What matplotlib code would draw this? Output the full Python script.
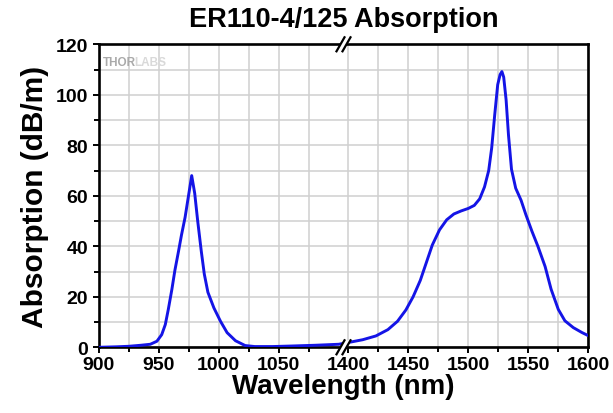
""" Courbe d'absorption ER110-4/125 avec axe des abscisses coupé (1100 -> 1400 nm) """
import numpy as np
import matplotlib.pyplot as plt
from matplotlib.patches import Polygon

# données
longueur_onde = [900, 915, 925, 935, 943, 948.5, 952.5, 955.5, 958, 961, 963.5, 966.5, 969, 972,
                 974.5, 977.5, 980, 982.5, 985.5, 988, 991, 996, 1001.5, 1007, 1014, 1022, 1030,
                 1045, 1060, 1080, 1100,
                 1400, 1412, 1423, 1433, 1441, 1448, 1454, 1460, 1465, 1470, 1476, 1482, 1488,
                 1494, 1500, 1505, 1509.5, 1513.5, 1517, 1519.5, 1522, 1524.5, 1526.5, 1528,
                 1529.5, 1531.5, 1533.5, 1536, 1539.5, 1544, 1548, 1553, 1558, 1564, 1569, 1575,
                 1580.5, 1587.5, 1594.5, 1600]
absorption = [0.0, 0.2, 0.4, 0.8, 1.2, 2.4, 5, 9, 15, 23, 30.5, 38, 44.5, 51.5,
              59, 68, 61, 50, 38, 29, 21.8, 15.6, 10.3, 5.8, 2.6, 0.7, 0.3,
              0.3, 0.5, 0.8, 1.2,
              1.9, 3.0, 4.5, 7.0, 10.3, 14.8, 20, 26.5, 33.5, 40.5, 46.5, 50.5, 52.8,
              54, 55, 56.2, 58.8, 63.5, 70, 79, 92, 104, 108, 109.2,
              107, 98, 84, 70.5, 63, 58.2, 52.5, 46, 40, 32, 23, 15,
              10.5, 7.8, 5.9, 4.6]

ticks_x = [900, 950, 1000, 1050, 1400, 1450, 1500, 1550, 1600]
ticks_x_min = [925, 975, 1025, 1075, 1425, 1475, 1525, 1575]

coupure_debut, coupure_fin, ecart = 1100, 1400, 8.0


def aller(x):
    x = np.asarray(x, dtype=float)
    milieu = coupure_debut + (x - coupure_debut) * ecart / (coupure_fin - coupure_debut)
    return np.where(x <= coupure_debut, x,
                    np.where(x >= coupure_fin, x - (coupure_fin - coupure_debut) + ecart, milieu))


def retour(u):
    u = np.asarray(u, dtype=float)
    milieu = coupure_debut + (u - coupure_debut) * (coupure_fin - coupure_debut) / ecart
    return np.where(u <= coupure_debut, u,
                    np.where(u >= coupure_debut + ecart, u + (coupure_fin - coupure_debut) - ecart, milieu))


plt.rcParams['font.family'] = ['Liberation Sans', 'DejaVu Sans']
plt.rcParams['font.weight'] = 'bold'

fig = plt.figure(figsize=(6.13, 4.14), dpi=100)
ax = fig.add_axes([98.7 / 613, 1 - 348.3 / 414, 489.6 / 613, 303 / 414])

ax.set_xscale('function', functions=(aller, retour))
ax.plot(longueur_onde, absorption, color='#1414e6', lw=2.1, zorder=3,
        solid_joinstyle='round', solid_capstyle='round')

ax.set_xlim(900, 1600)
ax.set_ylim(0, 120)
ax.set_xticks(ticks_x)
ax.set_xticks(ticks_x_min, minor=True)
ax.set_xticklabels([str(t) for t in ticks_x])
ax.set_yticks(range(0, 121, 20))
ax.set_yticks(range(10, 120, 20), minor=True)

ax.grid(True, which='both', color='#d0d0d0', lw=1.1, zorder=0)
ax.set_axisbelow(True)

for s in ax.spines.values():
    s.set_linewidth(1.9)
ax.tick_params(which='both', direction='out', width=1.4, length=4.5, labelsize=14, pad=2)
ax.tick_params(axis='y', pad=3)
ax.tick_params(which='minor', length=3.5)

ax.set_title('ER110-4/125 Absorption', fontsize=19.5, fontweight='bold', pad=13)
ax.set_xlabel('Wavelength (nm)', fontsize=20, fontweight='bold', labelpad=0)
ax.set_ylabel('Absorption (dB/m)', fontsize=21.5, fontweight='bold', labelpad=5)

# logo en filigrane
ax.text(0.009, 0.943, 'THOR', transform=ax.transAxes, color='#aaaaaa', fontsize=8.5,
        fontweight='bold', va='center', ha='left')
ax.text(0.073, 0.943, 'LABS', transform=ax.transAxes, color='#d9d9d9', fontsize=8.5,
        fontweight='bold', va='center', ha='left')

# symbole de coupure "//" en haut et en bas
xb = float((aller(1250) - aller(900)) / (aller(1600) - aller(900)))
lx, ly = 489.6, 303.0
for yb in (0.0, 1.0):
    d, hx, hy = 3.0, 4.0, 7.0
    coins = [(xb + (-d - hx) / lx, yb - hy / ly), (xb + (-d + hx) / lx, yb + hy / ly),
             (xb + (d + hx) / lx, yb + hy / ly), (xb + (d - hx) / lx, yb - hy / ly)]
    ax.add_patch(Polygon(coins, closed=True, transform=ax.transAxes, facecolor='white',
                         edgecolor='none', clip_on=False, zorder=5))
    for c in (-d, d):
        ax.plot([xb + (c - hx) / lx, xb + (c + hx) / lx], [yb - hy / ly, yb + hy / ly],
                transform=ax.transAxes, color='black', lw=1.6, clip_on=False, zorder=6)

fig.savefig('out.png', dpi=100)
